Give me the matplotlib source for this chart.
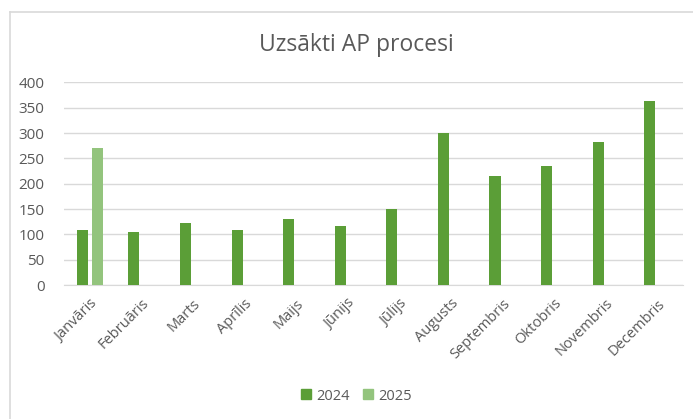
import matplotlib
matplotlib.use("Agg")
import matplotlib.pyplot as plt
from matplotlib.lines import Line2D
import numpy as np

plt.rcParams['font.family'] = ['Open Sans', 'DejaVu Sans']

months = ["Janvāris", "Februāris", "Marts", "Aprīlis", "Maijs", "Jūnijs",
          "Jūlijs", "Augusts", "Septembris", "Oktobris", "Novembris", "Decembris"]
values_2024 = [109, 105, 122, 109, 131, 117, 150, 300, 215, 235, 283, 364]
values_2025 = [271]
series_labels = ["2024", "2025"]
title = "Uzsākti AP procesi"
yticks = [0, 50, 100, 150, 200, 250, 300, 350, 400]

c2024 = "#5b9e37"
c2025 = "#93c47d"
text_c = "#595959"

fig = plt.figure(figsize=(6.93, 4.19), dpi=100)
ax = fig.add_axes([64/693, 1 - 285/419, (683-64)/693, (285-82.5)/419])

x = np.arange(len(months))
off = 0.145
w = 0.215
ax.bar(x - off, values_2024, width=w, color=c2024, label=series_labels[0], zorder=3)
ax.bar(x[:len(values_2025)] + off, values_2025, width=w, color=c2025, label=series_labels[1], zorder=3)

ax.set_xlim(-0.5, len(months) - 0.5)
ax.set_ylim(0, 400)
ax.set_yticks(yticks)
ax.set_yticklabels([str(v) for v in yticks], color=text_c, fontsize=11)
ax.tick_params(axis='y', length=0, pad=14)
ax.set_xticks(x)
ax.set_xticklabels(months, rotation=45, ha='right', rotation_mode='anchor',
                   color=text_c, fontsize=10.5)
ax.tick_params(axis='x', length=0, pad=8)
ax.grid(axis='y', color='#d9d9d9', linewidth=1, zorder=0)
for s in ['top', 'right', 'left']:
    ax.spines[s].set_visible(False)
ax.spines['bottom'].set_color('#d9d9d9')

fig.text(356/693, 1 - 45/419, title, ha='center', va='center', fontsize=16.5, color=text_c)

handles = [Line2D([], [], marker='s', linestyle='', markersize=7, color=c2024),
           Line2D([], [], marker='s', linestyle='', markersize=7, color=c2025)]
fig.legend(handles, series_labels, loc='center', bbox_to_anchor=(356/693, 1 - 396/419),
           ncol=2, frameon=False, fontsize=10.5, labelcolor=text_c,
           handlelength=0.8, handletextpad=0.3, columnspacing=0.9)

# chart border (top and left)
fig.add_artist(Line2D([10/693, 1], [1 - 12/419, 1 - 12/419], color='#d9d9d9', linewidth=1.2,
                      transform=fig.transFigure))
fig.add_artist(Line2D([10/693, 10/693], [0, 1 - 12/419], color='#d9d9d9', linewidth=1.2,
                      transform=fig.transFigure))

fig.savefig("out.png", dpi=100)
